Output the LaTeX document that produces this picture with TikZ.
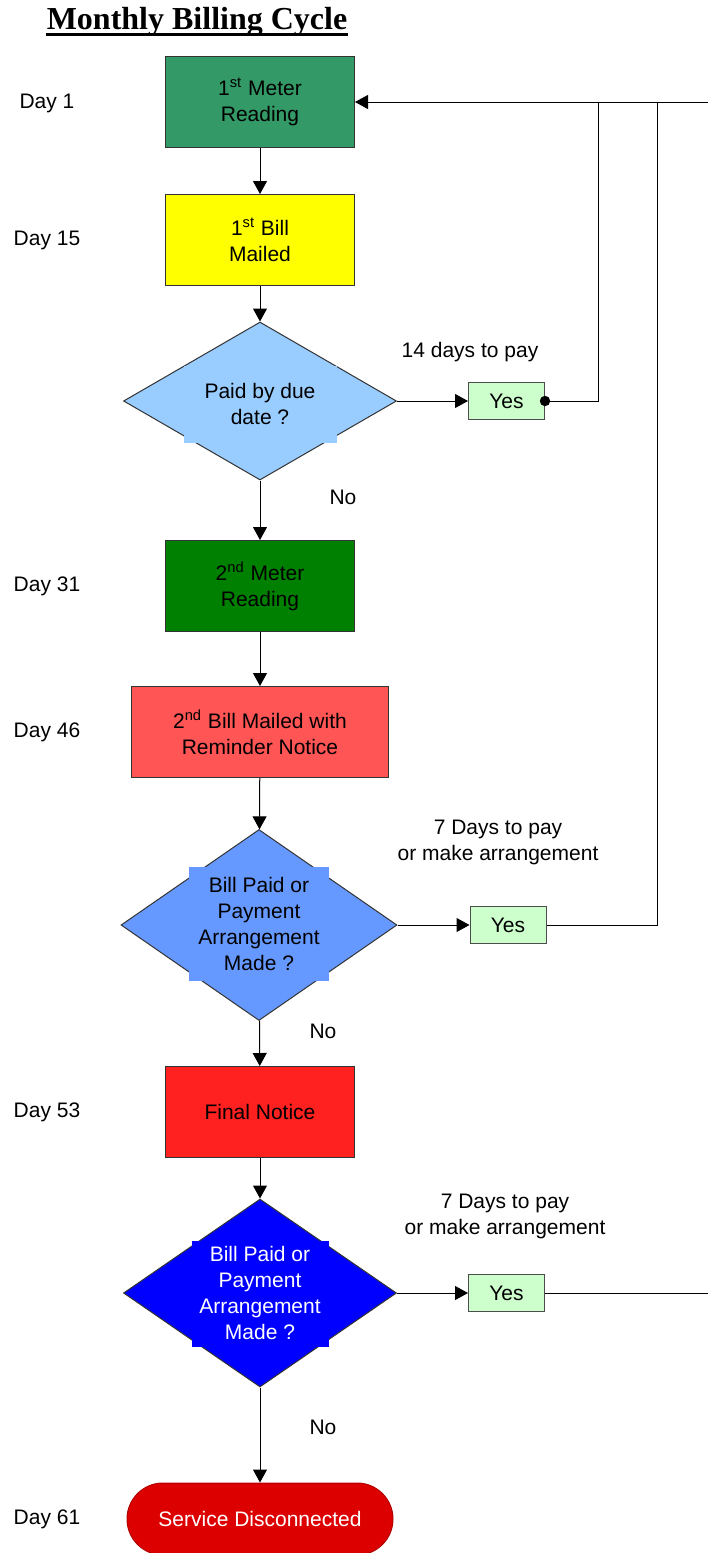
\documentclass[tikz,border=0pt]{standalone}
\usepackage{fontspec}
\setmainfont{Liberation Sans}
\newfontfamily\titlefont{Liberation Serif}
\usetikzlibrary{shapes.geometric}
\usetikzlibrary{arrows.meta}
\usetikzlibrary{positioning}

\definecolor{meterone}{HTML}{339966}
\definecolor{billone}{HTML}{FFFF00}
\definecolor{paidblue}{HTML}{99CCFF}
\definecolor{metertwo}{HTML}{008000}
\definecolor{billtwo}{HTML}{FF5555}
\definecolor{arrblue}{HTML}{6699FF}
\definecolor{finalred}{HTML}{FF2020}
\definecolor{lastblue}{HTML}{0000FF}
\definecolor{yesgreen}{HTML}{CCFFCC}
\definecolor{cutred}{HTML}{DD0000}

\tikzset{
  stepbox/.style={rectangle, draw=black!80, line width=0.5pt, minimum width=94.5pt, minimum height=45.5pt, align=center, inner sep=0pt},
  decision/.style={diamond, draw=black!80, line width=0.5pt, inner sep=0pt},
  yesbox/.style={rectangle, draw=black!70, line width=0.5pt, fill=yesgreen, minimum width=38pt, minimum height=18.5pt, inner sep=0pt},
  daylabel/.style={inner sep=0pt},
  flow/.style={-{Triangle[length=6.5pt,width=7pt]}, line width=0.5pt},
  wire/.style={line width=0.5pt},
}

\begin{document}
\begin{tikzpicture}[x=0.5pt, y=-0.5pt, font=\fontsize{10.5}{13}\selectfont]
  \useasboundingbox (0,0) rectangle (707,1553);

  % title
  \node [anchor=base, inner sep=0pt, font=\titlefont\bfseries\fontsize{16}{19}\selectfont] (title) at (197,29) {Monthly Billing Cycle};
  \draw [line width=1.5pt] ([yshift=-2.5pt]title.base west) -- ([yshift=-2.5pt]title.base east);

  % main chain
  \node [stepbox, fill=meterone] (meter1) at (260,102) {1\textsuperscript{st} Meter\\Reading};
  \node [stepbox, fill=billone] (bill1) at (260,240) {1\textsuperscript{st} Bill\\Mailed};

  \node [decision, fill=paidblue, minimum width=136.5pt, minimum height=79pt] (paid) at (260,401) {};
  \fill [paidblue] (184,366) rectangle (337,443);
  \node [align=center] (paidtxt) at (260,404) {Paid by due\\date ?};

  \node [stepbox, fill=metertwo] (meter2) at (260,586) {2\textsuperscript{nd} Meter\\Reading};
  \node [stepbox, fill=billtwo, minimum width=128.5pt] (bill2) at (260,732) {2\textsuperscript{nd} Bill Mailed with\\Reminder Notice};

  \node [decision, fill=arrblue, minimum width=138pt, minimum height=95.5pt] (arr1) at (259,925) {};
  \fill [arrblue] (189,867) rectangle (329,981);
  \node [align=center] (arr1txt) at (259,924) {Bill Paid or\\Payment\\Arrangement\\Made ?};

  \node [stepbox, fill=finalred] (final) at (260,1112) {Final Notice};

  \node [decision, fill=lastblue, minimum width=136.5pt, minimum height=94pt] (arr2) at (260,1293) {};
  \fill [lastblue] (192,1241) rectangle (329,1347);
  \node [align=center, text=white] (arr2txt) at (260,1293) {Bill Paid or\\Payment\\Arrangement\\Made ?};

  \node [rectangle, draw=cutred!80!black, line width=0.5pt, fill=cutred, rounded corners=18pt, minimum width=133pt, minimum height=36pt, text=white] (cutoff) at (260,1519) {Service Disconnected};

  % yes branches
  \node [yesbox, right=35.5pt of paid] (yes1) {Yes};
  \node [yesbox, right=36pt of arr1] (yes2) {Yes};
  \node [yesbox, right=35.5pt of arr2] (yes3) {Yes};

  % days
  \node [daylabel] (day1) at (47,103) {Day 1};
  \node [daylabel] (day15) at (47,240) {Day 15};
  \node [daylabel] (day31) at (47,586) {Day 31};
  \node [daylabel] (day46) at (47,732) {Day 46};
  \node [daylabel] (day53) at (47,1112) {Day 53};
  \node [daylabel] (day61) at (47,1519) {Day 61};

  % branch notes
  \node (pay14) at (470,352) {14 days to pay};
  \node [align=center] (pay7a) at (498,842) {7 Days to pay\\or make arrangement};
  \node [align=center] (pay7b) at (505,1216) {7 Days to pay\\or make arrangement};
  \node (no1) at (343,497) {No};
  \node (no2) at (323,1031) {No};
  \node (no3) at (323,1427) {No};

  % connectors
  \coordinate (jointA) at (598,103);
  \coordinate (jointB) at (657,103);
  \coordinate (offpage) at (716,1293);

  \draw [flow] (meter1) -- (bill1);
  \draw [flow] (bill1) -- (paid);
  \draw [flow] (paid) -- (yes1);
  \draw [flow] (paid) -- (meter2);
  \draw [flow] (meter2) -- (bill2);
  \draw [flow] (bill2) -- (arr1);
  \draw [flow] (arr1) -- (yes2);
  \draw [flow] (arr1) -- (final);
  \draw [flow] (final) -- (arr2);
  \draw [flow] (arr2) -- (yes3);
  \draw [flow] (arr2) -- (cutoff);
  \draw [flow] (yes3) -- (offpage) |- (meter1);
  \draw [wire] (yes1) -| (jointA);
  \fill (yes1.east) circle (2.6pt);
  \draw [wire] (yes2) -| (jointB);
\end{tikzpicture}
\end{document}
